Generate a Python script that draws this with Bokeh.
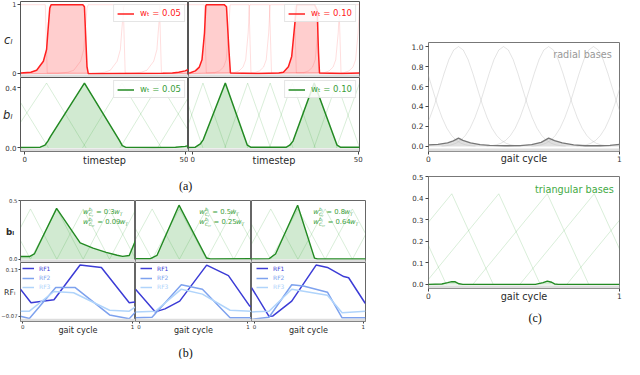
from bokeh.plotting import figure
from bokeh.layouts import row, column
from bokeh.models import (Range1d, Label, Legend, LegendItem, LinearAxis,
                          FixedTicker, BoxAnnotation, Grid)
from bokeh.core.properties import value
from bokeh.embed import file_html
from bokeh.resources import INLINE

# ======================= DATA =======================
# (a) c_l, w_T = 0.05  (x: timestep)
a05_c_t = [-1.3, 1.9, 3.7, 5.8, 6.8, 7.2, 7.8, 8.2, 18.1, 18.6, 19.4, 19.8, 30.0, 43.0, 46.0, 48.0, 50.0, 51.0]
a05_c_v = [0.01, 0.02, 0.05, 0.18, 0.35, 0.60, 0.95, 1.00, 1.00, 0.97, 0.10, 0.00, 0.002, 0.004, 0.01, 0.02, 0.04, 0.06]
a05_c_faint_t = [
    [-1.3, 6.4, 6.7, 7.0, 33.1, 36.3, 38.1, 40.2, 41.2, 41.6, 42.2, 42.6, 51.0],
    [-1.3, 10.3, 13.5, 15.3, 17.4, 18.4, 18.8, 19.4, 19.8, 30.7, 31.0, 31.3, 51.0],
    [-1.3, 21.7, 24.9, 26.7, 28.8, 29.8, 30.2, 30.8, 31.2, 42.0, 42.3, 42.6, 51.0],
]
a05_c_faint_v = [
    [1.0, 1.0, 0.5, 0.01, 0.005, 0.02, 0.05, 0.18, 0.35, 0.6, 0.95, 1.0, 1.0],
    [0.0, 0.005, 0.02, 0.05, 0.18, 0.35, 0.6, 0.95, 1.0, 1.0, 0.5, 0.01, 0.0],
    [0.0, 0.005, 0.02, 0.05, 0.18, 0.35, 0.6, 0.95, 1.0, 1.0, 0.5, 0.01, 0.0],
]
# (a) c_l, w_T = 0.10
a10_c_t = [-1.27, -0.7, 0.8, 2.0, 2.8, 3.56, 3.95, 4.1, 9.5, 10.2, 11.0, 11.4, 20.0, 26.0, 27.4, 28.9,
           29.9, 30.9, 31.4, 36.8, 37.6, 38.0, 38.3, 45.0, 50.4]
a10_c_v = [0.01, 0.014, 0.04, 0.095, 0.2, 0.59, 0.98, 1.0, 1.0, 0.97, 0.3, 0.01, 0.002, 0.008, 0.02, 0.1,
           0.25, 0.75, 1.0, 1.0, 0.92, 0.3, 0.01, 0.003, 0.01]
a10_c_faint_t = [
    [-1.27, 3.5, 3.8, 4.1, 18.7, 20.2, 21.4, 22.2, 22.95, 23.35, 23.5, 30.7, 31.0, 31.3, 45.7, 47.2, 48.4, 49.2, 49.95, 50.4],
    [-1.27, 6.6, 8.1, 9.3, 10.1, 10.85, 11.25, 11.4, 17.0, 17.3, 17.6, 33.5, 35.0, 36.2, 37.0, 37.75, 38.15, 38.3, 44.2, 44.5, 44.8, 50.4],
    [-1.27, 12.5, 14.0, 15.2, 16.0, 16.75, 17.15, 17.3, 23.2, 23.5, 23.8, 39.7, 41.2, 42.4, 43.2, 43.95, 44.35, 44.5, 50.4],
]
a10_c_faint_v = [
    [1.0, 1.0, 0.5, 0.01, 0.014, 0.04, 0.095, 0.2, 0.59, 0.98, 1.0, 1.0, 0.5, 0.01, 0.014, 0.04, 0.095, 0.2, 0.59, 1.0],
    [0.0, 0.014, 0.04, 0.095, 0.2, 0.59, 0.98, 1.0, 1.0, 0.5, 0.01, 0.014, 0.04, 0.095, 0.2, 0.59, 0.98, 1.0, 1.0, 0.5, 0.01, 0.005],
    [0.0, 0.014, 0.04, 0.095, 0.2, 0.59, 0.98, 1.0, 1.0, 0.5, 0.01, 0.014, 0.04, 0.095, 0.2, 0.59, 0.98, 1.0, 1.0],
]
# (a) b_l, w_T = 0.05
a05_b_t = [-1.3, 4.8, 6.3, 7.2, 8.0, 18.6, 29.5, 30.4, 31.4, 40.0, 47.0, 50.0, 51.0]
a05_b_v = [0.003, 0.005, 0.018, 0.045, 0.075, 0.43, 0.05, 0.015, 0.005, 0.003, 0.004, 0.01, 0.014]
a05_b_faint_t = [[-1.3, 7.4], [-1.3, 6.8, 19.1], [18.0, 30.3, 42.6], [29.7, 42.0, 51.0], [41.4, 51.0]]
a05_b_faint_v = [[0.30, 0.0], [0.17, 0.43, 0.0], [0.0, 0.43, 0.0], [0.0, 0.43, 0.115], [0.0, 0.335]]
# (a) b_l, w_T = 0.10
a10_b_t = [-1.27, 0.8, 2.3, 3.2, 9.85, 16.5, 17.5, 28.3, 29.3, 30.3, 36.7, 43.6, 44.6, 50.4]
a10_b_v = [0.003, 0.005, 0.027, 0.055, 0.43, 0.018, 0.005, 0.005, 0.018, 0.045, 0.43, 0.018, 0.005, 0.005]
a10_b_faint_t = [[-1.27, 3.1], [-1.27, 3.1, 10.0], [9.7, 16.6, 23.5], [16.5, 23.4, 30.3],
                 [23.2, 30.1, 37.0], [36.6, 43.5, 50.4], [43.4, 50.4]]
a10_b_faint_v = [[0.28, 0.0], [0.16, 0.43, 0.0], [0.0, 0.43, 0.0], [0.0, 0.43, 0.0],
                 [0.0, 0.43, 0.0], [0.0, 0.43, 0.0], [0.0, 0.43]]
a_legend = ["0.05", "0.10"]

# (b) three columns (x: gait cycle)
b_coef = ["0.3", "0.5", "0.8"]
b_coef_sq = ["0.09", "0.25", "0.64"]
b_x = [[-0.021, 0.06, 0.105, 0.308, 0.523, 0.64, 0.76, 0.86, 0.91, 0.97, 1.027],
       [-0.033, 0.104, 0.164, 0.367, 0.62, 0.656, 1.033],
       [-0.027, 0.134, 0.194, 0.397, 0.552, 0.58, 1.021]]
b_v = [[0.024, 0.024, 0.046, 0.435, 0.141, 0.095, 0.06, 0.035, 0.025, 0.033, 0.16],
       [0.005, 0.005, 0.033, 0.462, 0.011, 0.003, 0.005],
       [0.003, 0.005, 0.046, 0.462, 0.011, 0.003, 0.003]]
b_faint_x = [
    [[-0.021, 0.07], [-0.021, 0.07, 0.31], [0.07, 0.31, 0.55], [0.31, 0.55, 0.79], [0.55, 0.79, 1.027], [0.79, 1.027]],
    [[-0.033, 0.12], [-0.033, 0.12, 0.37], [0.12, 0.37, 0.62], [0.37, 0.62, 0.87], [0.62, 0.87, 1.033], [0.87, 1.033]],
    [[-0.027, 0.15], [-0.027, 0.15, 0.40], [0.15, 0.40, 0.65], [0.40, 0.65, 0.90], [0.65, 0.90, 1.021], [0.90, 1.021]],
]
b_faint_v = [
    [[0.16, 0.0], [0.27, 0.43, 0.0], [0.0, 0.43, 0.0], [0.0, 0.43, 0.0], [0.0, 0.43, 0.005], [0.0, 0.42]],
    [[0.26, 0.0], [0.17, 0.43, 0.0], [0.0, 0.43, 0.0], [0.0, 0.43, 0.0], [0.0, 0.43, 0.15], [0.0, 0.28]],
    [[0.30, 0.0], [0.13, 0.43, 0.0], [0.0, 0.43, 0.0], [0.0, 0.43, 0.0], [0.0, 0.43, 0.22], [0.0, 0.21]],
]
rf_names = ["RF1", "RF2", "RF3"]
rf_x = [
    [[-0.021, 0.075, 0.284, 0.522, 0.716, 0.97, 1.027],
     [-0.021, 0.06, 0.30, 0.478, 0.791, 0.97, 1.027],
     [-0.021, 0.06, 0.284, 0.463, 0.791, 0.97, 1.027]],
    [[-0.033, 0.149, 0.238, 0.373, 0.621, 0.821, 1.015, 1.033],
     [-0.033, 0.119, 0.388, 0.582, 0.836, 1.033],
     [-0.033, 0.149, 0.388, 0.582, 0.836, 1.033]],
    [[-0.027, 0.134, 0.17, 0.343, 0.567, 0.671, 0.821, 0.866, 1.015, 1.021],
     [-0.027, 0.134, 0.343, 0.45, 0.671, 0.806, 1.021],
     [-0.027, 0.134, 0.343, 0.671, 0.806, 1.021]],
]
rf_v = [
    [[0.046, -0.012, 0.001, 0.149, 0.139, -0.012, -0.008],
     [-0.07, -0.079, 0.053, 0.053, -0.064, -0.08, -0.051],
     [-0.048, -0.048, 0.036, 0.031, -0.044, -0.048, -0.029]],
    [[0.046, -0.051, -0.038, -0.005, 0.149, 0.104, -0.025, -0.03],
     [-0.076, -0.074, 0.065, 0.046, -0.076, -0.076],
     [-0.051, -0.048, 0.046, 0.025, -0.044, -0.048]],
    [[0.053, -0.07, -0.068, -0.005, 0.149, 0.139, 0.1, 0.095, -0.012, -0.015],
     [-0.083, -0.074, 0.065, 0.06, 0.033, -0.076, -0.076],
     [-0.051, -0.048, 0.046, 0.02, -0.055, -0.048]],
]

# (c) radial and triangular bases (x: gait cycle)
radial_centers = [-0.079, 0.157, 0.393, 0.629, 0.864, 1.10]
radial_offsets = [-0.325, -0.3, -0.275, -0.25, -0.225, -0.2, -0.175, -0.15, -0.125, -0.1, -0.075, -0.05, -0.025, 0.0,
                  0.025, 0.05, 0.075, 0.1, 0.125, 0.15, 0.175, 0.2, 0.225, 0.25, 0.275, 0.3, 0.325]
radial_profile = [0.003, 0.007, 0.015, 0.031, 0.06, 0.109, 0.183, 0.288, 0.42, 0.575, 0.732, 0.871, 0.966, 1.0,
                  0.966, 0.871, 0.732, 0.575, 0.42, 0.288, 0.183, 0.109, 0.06, 0.031, 0.015, 0.007, 0.003]
radial_sel_x = [0.0, 0.05, 0.1, 0.13, 0.157, 0.18, 0.22, 0.27, 0.32, 0.4, 0.48, 0.54, 0.59, 0.629, 0.66, 0.7,
                0.76, 0.82, 0.9, 0.95, 1.0]
radial_sel_v = [0.015, 0.02, 0.035, 0.055, 0.082, 0.06, 0.035, 0.018, 0.01, 0.006, 0.008, 0.018, 0.04, 0.082,
                0.058, 0.035, 0.015, 0.007, 0.006, 0.01, 0.02]
tri_x = [[-0.514, -0.124, 0.093], [-0.268, 0.122, 0.339], [-0.022, 0.368, 0.585],
         [0.232, 0.622, 0.839], [0.478, 0.868, 1.085], [0.724, 1.114, 1.331]]
tri_v = [[0.0, 0.42, 0.0], [0.0, 0.42, 0.0], [0.0, 0.42, 0.0],
         [0.0, 0.42, 0.0], [0.0, 0.42, 0.0], [0.0, 0.42, 0.0]]
tri_sel_x = [0.0, 0.07, 0.1, 0.122, 0.14, 0.16, 0.18, 0.56, 0.6, 0.622, 0.645, 0.66, 0.68, 1.0]
tri_sel_v = [0.0, 0.002, 0.008, 0.013, 0.012, 0.003, 0.0, 0.0, 0.008, 0.015, 0.01, 0.002, 0.0, 0.0]

# ======================= STYLE / LAYOUT =======================
SX, SY, FS = 0.975, 0.957, 0.97
FONT = "DejaVu Sans"
SERIF = "Liberation Serif"
RED = "#ff2020"
GREEN = "#238a23"
GREEN_T = "#3a9e3a"
RFC = ["#3c3cd6", "#7ea2ee", "#b0d4fb"]


def X(v):
    return int(round(v * SX))


def Y(v):
    return int(round(v * SY))


class Panel:
    def __init__(self, box, frame, xr, yr, outline="#555555", band=True):
        x0, y0, x1, y1 = box
        fl, ft, fr, fb = frame
        self.frame, self.xr, self.yr = frame, xr, yr
        p = figure(width=X(x1) - X(x0), height=Y(y1) - Y(y0),
                   x_range=Range1d(*xr), y_range=Range1d(*yr),
                   x_axis_location=None, y_axis_location=None,
                   tools="", toolbar_location=None, title=None,
                   output_backend="svg", min_border=0,
                   min_border_left=X(fl) - X(x0), min_border_right=X(x1) - X(fr),
                   min_border_top=Y(ft) - Y(y0), min_border_bottom=Y(y1) - Y(fb))
        p.center = [c for c in p.center if not isinstance(c, Grid)]
        p.outline_line_color = outline
        p.background_fill_color = "white"
        p.border_fill_color = "white"
        self.p = p
        self.fh = Y(fb) - Y(ft)
        if band:
            d = 3.0 * (yr[1] - yr[0]) / self.fh
            p.add_layout(BoxAnnotation(bottom=yr[0], top=yr[0] + d, fill_color="#dddddd",
                                       fill_alpha=1, line_color=None))

    def at(self, x, y):
        fl, ft, fr, fb = self.frame
        return (self.xr[0] + (x - fl) / (fr - fl) * (self.xr[1] - self.xr[0]),
                self.yr[1] - (y - ft) / (fb - ft) * (self.yr[1] - self.yr[0]))

    def text(self, x, y, s, size, color="#222222", align="center", style="normal", font=FONT):
        dx, dy = self.at(x, y)
        self.p.add_layout(Label(x=dx, y=dy, text=s, text_font_size=f"{size * FS:.1f}px",
                                text_color=color, text_align=align, text_baseline="middle",
                                text_font_style=style, text_font=font))

    def axis(self, side, ticks, labels, fs, tick=3, standoff=1, label=None, lsize=10,
             lstyle="normal", lstandoff=0, horizontal=False):
        ax = LinearAxis(ticker=FixedTicker(ticks=ticks),
                        major_label_overrides=dict(zip(ticks, labels)),
                        major_label_text_font_size=f"{fs}px", major_label_text_font=FONT,
                        major_label_text_color="#333333", major_tick_out=tick, major_tick_in=0,
                        minor_tick_out=0, minor_tick_in=0, axis_line_color=None,
                        major_tick_line_color="#444444", major_label_standoff=standoff)
        if label is not None:
            ax.axis_label = label
            ax.axis_label_text_font = FONT
            ax.axis_label_text_font_size = f"{lsize * FS:.1f}px"
            ax.axis_label_text_font_style = lstyle
            ax.axis_label_text_color = "#2a2a2a"
            ax.axis_label_standoff = lstandoff
            if horizontal:
                ax.axis_label_orientation = "horizontal"
        self.p.add_layout(ax, side)


WIDTH = {' ': 0.318, '=': 0.838, '.': 0.318, 'w': 0.818, 'T': 0.611, 'C': 0.698,
         'r': 0.411, 'b': 0.635, 'l': 0.278}


def tw(s, size):
    return sum(WIDTH.get(c, 0.636) for c in s) * size * FS


def wexpr(P, x0, y, sub2, coef):
    sm, ss, sss = 7.0, 4.6, 3.4
    x = x0
    P.text(x, y, "w", sm, GREEN_T, "left", "italic")
    x += tw("w", sm) + 0.3
    P.text(x, y - 3.0, "b", ss, GREEN_T, "left", "italic")
    P.text(x + tw("b", ss), y - 2.0, "l", sss, GREEN_T, "left", "italic")
    P.text(x, y + 2.4, "C", ss, GREEN_T, "left", "italic")
    P.text(x + tw("C", ss), y + 3.4, sub2, sss, GREEN_T, "left", "italic")
    x += max(tw("b", ss) + tw("l", sss), tw("C", ss) + tw(sub2, sss)) + 0.8 + tw(" ", sm)
    main = "= " + coef
    P.text(x, y, main, sm, GREEN_T, "left")
    x += tw(main, sm)
    P.text(x, y, "w", sm, GREEN_T, "left", "italic")
    x += tw("w", sm)
    P.text(x, y + 2.0, "T", ss, GREEN_T, "left", "italic")


def wlegend(P, r, label, color):
    leg = Legend(items=[LegendItem(label=value(label), renderers=[r])], location="top_right",
                 margin=3, padding=3, spacing=0, glyph_width=17, glyph_height=9, label_height=9,
                 label_standoff=6, label_text_font_size="8.5px", label_text_color=color,
                 label_text_font=FONT, border_line_color="#cccccc", border_line_width=1,
                 background_fill_color="white", background_fill_alpha=0.85)
    P.p.add_layout(leg)


# ---------------- panel (a) ----------------
A11 = Panel((0, 0, 193, 80), (16, 1, 193, 80), (-1.33, 51.04), (-0.056, 1.046))
A12 = Panel((193, 0, 392, 80), (193, 1, 368, 80), (-1.27, 50.38), (-0.056, 1.046))
A21 = Panel((0, 80, 193, 176), (16, 80, 193, 161), (-1.33, 51.04), (-0.024, 0.467))
A22 = Panel((193, 80, 392, 176), (193, 80, 368, 161), (-1.27, 50.38), (-0.024, 0.467))
capA = Panel((0, 176, 392, 205), (0, 176, 392, 205), (0, 1), (0, 1), outline=None, band=False)

for P, t, v, ft_, fv_, lab in [(A11, a05_c_t, a05_c_v, a05_c_faint_t, a05_c_faint_v, a_legend[0]),
                               (A12, a10_c_t, a10_c_v, a10_c_faint_t, a10_c_faint_v, a_legend[1])]:
    P.p.varea(x=t, y1=0, y2=v, fill_color=RED, fill_alpha=0.22)
    for fx, fy in zip(ft_, fv_):
        P.p.line(fx, fy, line_color=RED, line_alpha=0.15, line_width=1)
    r = P.p.line(t, v, line_color=RED, line_width=1.5)
    wlegend(P, r, "wₜ = " + lab, RED)

for P, t, v, ft_, fv_, lab in [(A21, a05_b_t, a05_b_v, a05_b_faint_t, a05_b_faint_v, a_legend[0]),
                               (A22, a10_b_t, a10_b_v, a10_b_faint_t, a10_b_faint_v, a_legend[1])]:
    P.p.varea(x=t, y1=0, y2=v, fill_color="#2ca02c", fill_alpha=0.22)
    for fx, fy in zip(ft_, fv_):
        P.p.line(fx, fy, line_color="#2ca02c", line_alpha=0.18, line_width=1)
    r = P.p.line(t, v, line_color=GREEN, line_width=1.5)
    wlegend(P, r, "wₜ = " + lab, GREEN_T)
    P.axis("below", [0, 50], ["0", "50"], 7, label="timestep", lsize=10, lstandoff=-10)

A11.axis("left", [0, 1], ["0", "1"], 6.5, label="cₗ", lsize=12, lstyle="italic",
         lstandoff=-3, horizontal=True)
A21.axis("left", [0, 0.4], ["0.0", "0.4"], 7, label="bₗ", lsize=12, lstyle="italic",
         lstandoff=-10, horizontal=True)
capA.text(190, 194.5, "(a)", 12.5, "#111111", font=SERIF)

# ---------------- panel (b) ----------------
bboxes = [((0, 205, 138, 274), (21, 209, 138, 274), (0, 274, 138, 352), (21, 274, 138, 339), (-0.021, 1.027)),
          ((138, 205, 257, 274), (138, 209, 257, 274), (138, 274, 257, 352), (138, 274, 257, 339), (-0.033, 1.033)),
          ((257, 205, 392, 274), (257, 209, 374, 274), (257, 274, 392, 352), (257, 274, 374, 339), (-0.027, 1.021))]
leg_in = [2, 5, 5]
Bt, Bb = [], []
for i, (tb, tf, bb, bf, xr) in enumerate(bboxes):
    T = Panel(tb, tf, xr, (-0.027, 0.502), outline="#666666")
    B = Panel(bb, bf, xr, (-0.092, 0.160), outline="#666666")
    T.p.varea(x=b_x[i], y1=0, y2=b_v[i], fill_color="#2ca02c", fill_alpha=0.22)
    for fx, fy in zip(b_faint_x[i], b_faint_v[i]):
        T.p.line(fx, fy, line_color="#2ca02c", line_alpha=0.18, line_width=1)
    T.p.line(b_x[i], b_v[i], line_color=GREEN, line_width=1.4)
    wexpr(T, tf[2] - 53.5, 221.5, "r", b_coef[i])
    wexpr(T, tf[2] - 53.5, 232.0, "rr", b_coef_sq[i])
    for k in range(3):
        r = B.p.line(rf_x[i][k], rf_v[i][k], line_color=RFC[k], line_width=1.5)
        top_in = [5, 14.5, 23.5][k]
        leg = Legend(items=[LegendItem(label=value(rf_names[k]), renderers=[r])],
                     location=(leg_in[i], B.fh - top_in - 8), padding=0, margin=0, spacing=0,
                     glyph_width=12, glyph_height=8, label_height=8, label_standoff=5,
                     label_text_font_size="6px", label_text_color=RFC[k], label_text_font=FONT,
                     border_line_color=None, background_fill_alpha=0)
        B.p.add_layout(leg)
    B.axis("below", [0, 1], ["0", "1"], 5.5, tick=2, standoff=0, label="gait cycle",
           lsize=8.3, lstandoff=-7)
    Bt.append(T)
    Bb.append(B)

Bt[0].axis("left", [0, 0.5], ["0.0", "0.5"], 5.3, tick=2, standoff=1, label="bₗ", lsize=9,
           lstyle="bold", lstandoff=-8, horizontal=True)
Bb[0].axis("left", [-0.07, 0.13], ["−0.07", "0.13"], 5.3, tick=2, standoff=1, label="RFₗ", lsize=8,
           lstandoff=-17, horizontal=True)
capB = Panel((0, 352, 392, 375), (0, 352, 392, 375), (0, 1), (0, 1), outline=None, band=False)
capB.text(190, 368, "(b)", 12.5, "#111111", font=SERIF)

# ---------------- panel (c) ----------------
C1 = Panel((392, 0, 640, 175), (439, 44, 637, 158), (0.0, 1.0), (-0.051, 1.041), outline="#777777")
C2 = Panel((392, 175, 640, 318), (438, 184, 635, 301), (0.0, 1.0), (-0.019, 0.5), outline="#777777")
capC = Panel((392, 318, 640, 375), (392, 318, 640, 375), (0, 1), (0, 1), outline=None, band=False)

for c in radial_centers:
    C1.p.line([c + o for o in radial_offsets], radial_profile, line_color="#bbbbbb", line_alpha=0.4, line_width=1)
C1.p.varea(x=radial_sel_x, y1=0, y2=radial_sel_v, fill_color="#bbbbbb", fill_alpha=0.45)
C1.p.line(radial_sel_x, radial_sel_v, line_color="#777777", line_width=1.4)
C1.axis("left", [0.0, 0.2, 0.4, 0.6, 0.8, 1.0], ["0.0", "0.2", "0.4", "0.6", "0.8", "1.0"], 7.5, tick=3, standoff=2)
C1.axis("below", [0, 1], ["0", "1"], 7.5, tick=3, standoff=1, label="gait cycle", lsize=10, lstandoff=-12)
C1.text(629, 57, "radial bases", 10, "#999999", "right")

for tx, tv in zip(tri_x, tri_v):
    C2.p.line(tx, tv, line_color="#2ca02c", line_alpha=0.18, line_width=1)
C2.p.varea(x=tri_sel_x, y1=0, y2=tri_sel_v, fill_color="#2ca02c", fill_alpha=0.22)
C2.p.line(tri_sel_x, tri_sel_v, line_color=GREEN, line_width=1.4)
C2.axis("left", [0.0, 0.1, 0.2, 0.3, 0.4, 0.5], ["0.0", "0.1", "0.2", "0.3", "0.4", "0.5"], 7, tick=3, standoff=2)
C2.axis("below", [0, 1], ["0", "1"], 7.5, tick=3, standoff=1, label="gait cycle", lsize=10, lstandoff=-11)
C2.text(629, 197.5, "triangular bases", 10, "#44aa44", "right")
capC.text(530.5, 332, "(c)", 12.5, "#111111", font=SERIF)

# ---------------- assemble ----------------
rowA = row(column(A11.p, A21.p), column(A12.p, A22.p))
rowB = row(column(Bt[0].p, Bb[0].p), column(Bt[1].p, Bb[1].p), column(Bt[2].p, Bb[2].p))
left = column(rowA, capA.p, rowB, capB.p)
right = column(C1.p, C2.p, capC.p)
root = row(left, right)

open("out.html", "w").write(file_html(root, INLINE))
